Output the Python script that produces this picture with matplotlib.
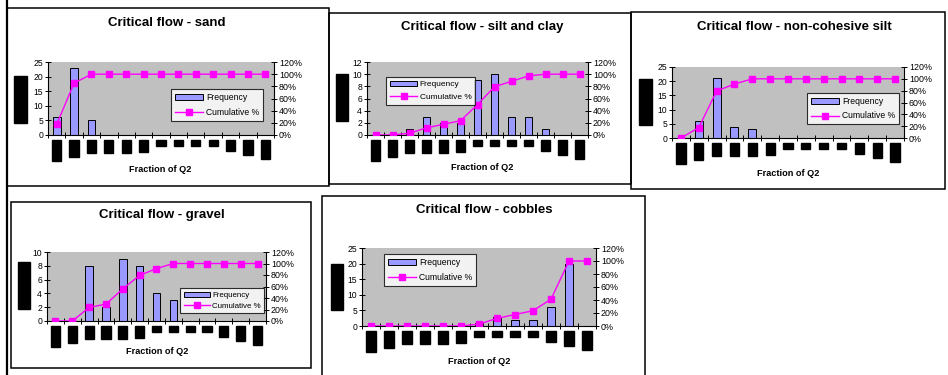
import matplotlib
matplotlib.use("Agg")
import matplotlib.pyplot as plt
from matplotlib.patches import Rectangle, Patch
from matplotlib.lines import Line2D
from matplotlib.ticker import FuncFormatter
import numpy as np

plt.rcParams['font.family'] = ['Liberation Sans', 'DejaVu Sans']

# ---------------- data ----------------
bins = ["0.001", "0.01", "0.1", "0.2", "0.3", "0.5", "1", "2", "3", "4", "10", "100", "More"]

titles = ["Critical flow - sand", "Critical flow - silt and clay",
          "Critical flow - non-cohesive silt", "Critical flow - gravel",
          "Critical flow - cobbles"]

freq_sand = [6, 23, 5, 0, 0, 0, 0, 0, 0, 0, 0, 0, 0]
cum_sand = [0.176, 0.853, 1.0, 1.0, 1.0, 1.0, 1.0, 1.0, 1.0, 1.0, 1.0, 1.0, 1.0]

freq_silt_clay = [0, 0, 1, 3, 2, 2, 9, 10, 3, 3, 1, 0, 0]
cum_silt_clay = [0.0, 0.0, 0.029, 0.118, 0.176, 0.235, 0.50, 0.794, 0.882, 0.971, 1.0, 1.0, 1.0]

freq_noncoh_silt = [0, 6, 21, 4, 3, 0, 0, 0, 0, 0, 0, 0, 0]
cum_noncoh_silt = [0.0, 0.176, 0.794, 0.912, 1.0, 1.0, 1.0, 1.0, 1.0, 1.0, 1.0, 1.0, 1.0]

freq_gravel = [0, 0, 8, 2, 9, 8, 4, 3, 0, 0, 0, 0, 0]
cum_gravel = [0.0, 0.0, 0.235, 0.294, 0.559, 0.794, 0.912, 1.0, 1.0, 1.0, 1.0, 1.0, 1.0]

freq_cobbles = [0, 0, 0, 0, 0, 0, 1, 3, 2, 2, 6, 20, 0]
cum_cobbles = [0.0, 0.0, 0.0, 0.0, 0.0, 0.0, 0.029, 0.118, 0.176, 0.235, 0.412, 1.0, 1.0]

freq_ymax = [25, 12, 25, 10, 25]
freq_ystep = [5, 2, 5, 2, 5]

freqs = [freq_sand, freq_silt_clay, freq_noncoh_silt, freq_gravel, freq_cobbles]
cums = [cum_sand, cum_silt_clay, cum_noncoh_silt, cum_gravel, cum_cobbles]

# ---------------- layout (pixels) ----------------
W, H = 948, 375
layouts = [
    dict(box=(7, 8, 329, 186), plot=(48, 62, 274, 135), title=(167, 23), leg=(171, 89),
         ylab=(20.5, 99.5), xlab=(160, 170), legfs=6.2, legsp=0.7),
    dict(box=(329, 13, 631, 184), plot=(367, 62, 588, 135), title=(482, 27), leg=(386, 77),
         ylab=(342, 97.5), xlab=(482, 168), legfs=6.0, legsp=0.6),
    dict(box=(631, 12, 945, 189), plot=(672, 67, 904, 138), title=(794, 27), leg=(807, 93),
         ylab=(645.5, 102), xlab=(788, 173), legfs=6.2, legsp=0.65),
    dict(box=(11, 202, 311, 368), plot=(47, 252, 266, 321), title=(162, 215), leg=(180, 288),
         ylab=(24, 285.5), xlab=(157, 352), legfs=5.7, legsp=0.45),
    dict(box=(322, 196, 645, 380), plot=(362, 248, 596, 326), title=(484, 210), leg=(384, 254),
         ylab=(337, 287), xlab=(479, 361), legfs=6.2, legsp=0.7),
]

def fx(x):
    return x / W

def fy(y):
    return 1 - y / H

fig = plt.figure(figsize=(W / 100, H / 100), dpi=100)
fig.patch.set_facecolor('white')

# outer left rule
fig.add_artist(Line2D([fx(7), fx(7)], [fy(0), fy(375)], color='black', lw=1.6,
                      transform=fig.transFigure))

bar_color = '#9999FF'
line_color = '#FF00FF'
x = np.arange(len(bins))

for i, lay in enumerate(layouts):
    x0, y0, x1, y1 = lay['box']
    fig.add_artist(Rectangle((fx(x0), fy(y1)), fx(x1) - fx(x0), fy(y0) - fy(y1),
                             fill=False, edgecolor='black', lw=1.1,
                             transform=fig.transFigure, clip_on=False))

    px0, py0, px1, py1 = lay['plot']
    ax = fig.add_axes([fx(px0), fy(py1), fx(px1) - fx(px0), fy(py0) - fy(py1)])
    ax.set_facecolor('#C0C0C0')
    ax.bar(x, freqs[i], width=0.45, color=bar_color, edgecolor='black', linewidth=0.7, zorder=2)
    ax.set_xlim(-0.5, len(bins) - 0.5)
    ax.set_ylim(0, freq_ymax[i])
    ax.set_yticks(np.arange(0, freq_ymax[i] + 0.01, freq_ystep[i]))
    ax.tick_params(axis='y', direction='inout', length=4, width=0.7, labelsize=6.2, pad=1.5)
    ax.set_xticks(x)
    ax.set_xticklabels(bins, rotation=90, fontsize=5.3, color='black')
    for lbl in ax.get_xticklabels():
        lbl.set_bbox(dict(facecolor='black', edgecolor='black', boxstyle='square,pad=0.15'))
    ax.set_xticks(np.arange(-0.5, len(bins), 1), minor=True)
    ax.tick_params(axis='x', which='major', length=0, pad=4.5)
    ax.tick_params(axis='x', which='minor', direction='inout', length=4, width=0.7)
    for s in ['top', 'right']:
        ax.spines[s].set_visible(False)
    for s in ['left', 'bottom']:
        ax.spines[s].set_linewidth(0.8)

    ax2 = ax.twinx()
    ax2.plot(x, cums[i], color=line_color, lw=1.0, marker='s', markersize=3.8,
             markerfacecolor=line_color, markeredgecolor=line_color, zorder=3)
    ax2.set_ylim(0, 1.2)
    ax2.set_yticks(np.arange(0, 1.21, 0.2))
    ax2.yaxis.set_major_formatter(FuncFormatter(lambda v, p: f"{v * 100:.0f}%"))
    ax2.tick_params(axis='y', direction='inout', length=4, width=0.7, labelsize=6.4, pad=1.5)
    for s in ['top', 'left', 'bottom']:
        ax2.spines[s].set_visible(False)
    ax2.spines['right'].set_linewidth(0.8)

    handles = [Patch(facecolor=bar_color, edgecolor='black', linewidth=0.7),
               Line2D([0], [0], color=line_color, lw=1.0, marker='s', markersize=3.8)]
    lx, ly = lay['leg']
    leg = ax2.legend(handles, ["Frequency", "Cumulative %"], loc='upper left',
                     bbox_to_anchor=(fx(lx), fy(ly)), bbox_transform=fig.transFigure,
                     fontsize=lay['legfs'], frameon=True, fancybox=False, handlelength=3.3,
                     handleheight=0.6, handletextpad=0.3, labelspacing=lay['legsp'],
                     borderpad=0.45, borderaxespad=0)
    leg.get_frame().set_edgecolor('black')
    leg.get_frame().set_linewidth(0.8)
    leg.get_frame().set_facecolor('white')

    tx, ty = lay['title']
    fig.text(fx(tx), fy(ty), titles[i], ha='center', va='center', fontsize=9.5,
             fontweight='bold')
    xx, xy = lay['xlab']
    fig.text(fx(xx), fy(xy), "Fraction of Q2", ha='center', va='center', fontsize=6.6,
             fontweight='bold')
    yx, yy = lay['ylab']
    fig.text(fx(yx), fy(yy), "Frequency", ha='center', va='center', fontsize=6.5,
             rotation=90, color='black',
             bbox=dict(facecolor='black', edgecolor='black', boxstyle='square,pad=0.2'))

fig.savefig("out.png", dpi=100)
